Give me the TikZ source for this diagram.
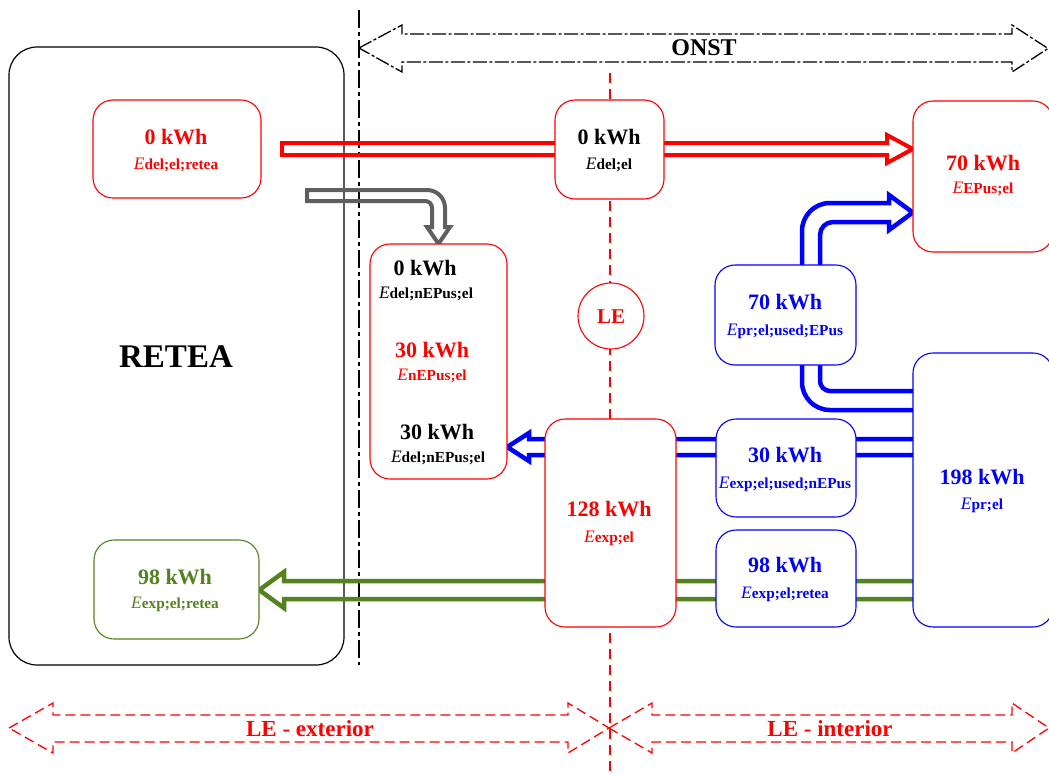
\documentclass[tikz,border=0pt]{standalone}
\usepackage{fontspec}
\setmainfont{Liberation Serif}
\usetikzlibrary{calc}
\definecolor{grn}{RGB}{84,130,30}
\definecolor{gry}{RGB}{95,95,95}
\newcommand\elab[1]{{\fontsize{17.5}{17.5}\selectfont\itshape E}{\fontsize{15.3}{16}\selectfont\bfseries #1}}
\begin{document}
\begin{tikzpicture}[x=1pt,y=-1pt,
  box/.style={draw=#1, rounded corners=20pt, fill=white, line width=1.1pt, inner sep=0pt},
  val/.style={text=#1, font=\fontsize{22}{22}\selectfont\bfseries, anchor=base, yshift=-7.3pt, inner sep=0pt},
  sub/.style={text=#1, anchor=base, yshift=-5.7pt, inner sep=0pt},
  flow/.style={draw=#1, line width=4.5pt, line join=miter, miter limit=10},
  zonearrow/.style={draw=#1, line width=1.3pt, line join=miter},
  bigtext/.style={text=#1, anchor=base, inner sep=0pt},
]
\useasboundingbox (0,0) rectangle (1049,776);
\clip (0,0) rectangle (1049,776);

% grid (RETEA) frame
\node[draw=black, rounded corners=28pt, line width=1.2pt, minimum width=335pt, minimum height=618pt, inner sep=0pt] (retea) at (176.5,356) {};

% building boundary (dash-dot)
\coordinate (bTop) at (359,10);
\coordinate (bBot) at (359,665);
\draw[black, line width=1.2pt, dash pattern=on 18pt off 4pt on 4pt off 4pt] (bTop) -- (bBot);

% ONST arrow
\draw[zonearrow=black, dash pattern=on 14pt off 2.5pt on 3pt off 2.5pt]
  (359,48) -- (402,25) -- (402,34) -- (1012,34) -- (1012,25) -- (1048,48.5) -- (1012,72) -- (1012,62) -- (402,62) -- (402,72) -- cycle;
\node[bigtext=black, font=\fontsize{24}{24}\selectfont\bfseries, yshift=-7.9pt] (onst) at (704,48) {ONST};

% meter line
\coordinate (mTop) at (610,73);
\coordinate (mBot) at (610,776);
\draw[red, line width=1.2pt, dash pattern=on 10pt off 6pt] (mTop) -- (mBot);

% boxes (placed first so flows can refer to them, drawn again on top)
\path
  (177,149) node[minimum width=168pt, minimum height=98pt] (dRet) {}
  (609.5,149.5) node[minimum width=109pt, minimum height=99pt] (dEl) {}
  (983,176.5) node[minimum width=140pt, minimum height=151pt] (epus) {}
  (785.5,315) node[minimum width=141pt, minimum height=100pt] (usedEP) {}
  (438.5,361.5) node[minimum width=137pt, minimum height=235pt] (list) {}
  (610.5,523) node[minimum width=131pt, minimum height=208pt] (exp) {}
  (786,468) node[minimum width=140pt, minimum height=98pt] (usedN) {}
  (786,578.5) node[minimum width=140pt, minimum height=97pt] (expRet) {}
  (983,490) node[minimum width=140pt, minimum height=274pt] (prod) {}
  (176.5,589.5) node[minimum width=165pt, minimum height=99pt] (green) {};

% red delivered arrow
\draw[flow=red, line width=4pt]
  (282,143) -- (887,143) -- (887,135) -- (epus.west |- 0,149) -- (887,163) -- (887,155) -- (282,155) -- cycle;

% grey arrow
\draw[flow=gry, line width=4pt]
  (307,190) -- (427,190) .. controls (437,190) and (445,198) .. (445,208) -- (445,227) -- (450,227)
  -- (list.north) -- (427,227) -- (432,227) -- (432,208) .. controls (432,204) and (429,201) .. (425,201) -- (307,201) -- cycle;

% blue arrow up to EPus
\draw[flow=blue]
  (802,0 |- usedEP.north) -- (802,231) .. controls (802,215.5) and (814.5,203) .. (830,203) -- (889,203) -- (889,195)
  -- (epus.west |- 0,212.5) -- (889,230) -- (889,222) -- (833,222) .. controls (825.8,222) and (820,227.8) .. (820,235)
  -- (820,0 |- usedEP.north);

% blue from production to usedEP
\draw[flow=blue] (802,0 |- usedEP.south) -- (802,382) .. controls (802,397.5) and (814.5,410) .. (830,410) -- (prod.west |- 0,410);
\draw[flow=blue] (820,0 |- usedEP.south) -- (820,381) .. controls (820,386.5) and (824.5,391) .. (830,391) -- (prod.west |- 0,391);

% blue exported-used arrow
\draw[flow=blue]
  (prod.west |- 0,439) -- (529,439) -- (529,433) -- (list.east |- 0,447) -- (529,461) -- (529,455) -- (prod.west |- 0,455);

% green exported arrow
\draw[flow=grn]
  (prod.west |- 0,581) -- (284,581) -- (284,572) -- (green.east |- 0,590) -- (284,608) -- (284,599) -- (prod.west |- 0,599);

% boxes on top
\node[box=red, minimum width=168pt, minimum height=98pt] at (dRet) {};
\node[box=red, minimum width=109pt, minimum height=99pt] at (dEl) {};
\node[box=red, minimum width=140pt, minimum height=151pt] at (epus) {};
\node[box=blue, minimum width=141pt, minimum height=100pt] at (usedEP) {};
\node[box=red, minimum width=137pt, minimum height=235pt] at (list) {};
\node[box=red, minimum width=131pt, minimum height=208pt] at (exp) {};
\node[box=blue, minimum width=140pt, minimum height=98pt] at (usedN) {};
\node[box=blue, minimum width=140pt, minimum height=97pt] at (expRet) {};
\node[box=blue, minimum width=140pt, minimum height=274pt] at (prod) {};
\node[box=grn, minimum width=165pt, minimum height=99pt] at (green) {};
\node[draw=red, fill=white, circle, line width=1.1pt, minimum size=66pt, inner sep=0pt] (le) at (611,316) {};

% texts
\node[bigtext=black, font=\fontsize{33}{33}\selectfont\bfseries, yshift=-10.9pt] (reteaT) at (176,357) {RETEA};
\node[bigtext=red, font=\fontsize{21}{21}\selectfont\bfseries, yshift=-7pt] (leT) at (le) {LE};

\node[val=red] (dRetV) at (176,137) {0 kWh};
\node[sub=red] (dRetS) at (176,164) {\elab{del;el;retea}};
\node[val=black] (dElV) at (609,137) {0 kWh};
\node[sub=black] (dElS) at (609,164) {\elab{del;el}};
\node[val=red] (epusV) at (983,163) {70 kWh};
\node[sub=red] (epusS) at (983,188) {\elab{EPus;el}};
\node[val=blue] (usedEPV) at (785,302) {70 kWh};
\node[sub=blue] (usedEPS) at (785,330) {\elab{pr;el;used;EPus}};
\node[val=black] (l1V) at (425,268) {0 kWh};
\node[sub=black] (l1S) at (426,293) {\elab{del;nEPus;el}};
\node[val=red] (l2V) at (432,350) {30 kWh};
\node[sub=red] (l2S) at (432,375) {\elab{nEPus;el}};
\node[val=black] (l3V) at (437,432) {30 kWh};
\node[sub=black] (l3S) at (438,457) {\elab{del;nEPus;el}};
\node[val=red] (expV) at (609,509) {128 kWh};
\node[sub=red] (expS) at (609,537) {\elab{exp;el}};
\node[val=blue] (usedNV) at (785,455) {30 kWh};
\node[sub=blue] (usedNS) at (785,483) {\elab{exp;el;used;nEPus}};
\node[val=blue] (expRetV) at (785,565) {98 kWh};
\node[sub=blue] (expRetS) at (785,593) {\elab{exp;el;retea}};
\node[val=blue] (prodV) at (982,477) {198 kWh};
\node[sub=blue] (prodS) at (982,504) {\elab{pr;el}};
\node[val=grn] (greenV) at (175,577) {98 kWh};
\node[sub=grn] (greenS) at (175,603) {\elab{exp;el;retea}};

% LE zones
\draw[zonearrow=red, dash pattern=on 10pt off 5pt]
  (9,728) -- (53,703) -- (53,715) -- (568,715) -- (568,703) -- (609,728) -- (568,753) -- (568,742) -- (53,742) -- (53,753) -- cycle;
\draw[zonearrow=red, dash pattern=on 10pt off 5pt]
  (609,728) -- (652,703) -- (652,715) -- (1012,715) -- (1012,703) -- (1049,728) -- (1012,753) -- (1012,742) -- (652,742) -- (652,753) -- cycle;
\node[bigtext=red, font=\fontsize{23}{23}\selectfont\bfseries, yshift=-7.6pt] (extT) at (310,729) {LE - exterior};
\node[bigtext=red, font=\fontsize{23}{23}\selectfont\bfseries, yshift=-7.6pt] (intT) at (830,729) {LE - interior};
\end{tikzpicture}
\end{document}
